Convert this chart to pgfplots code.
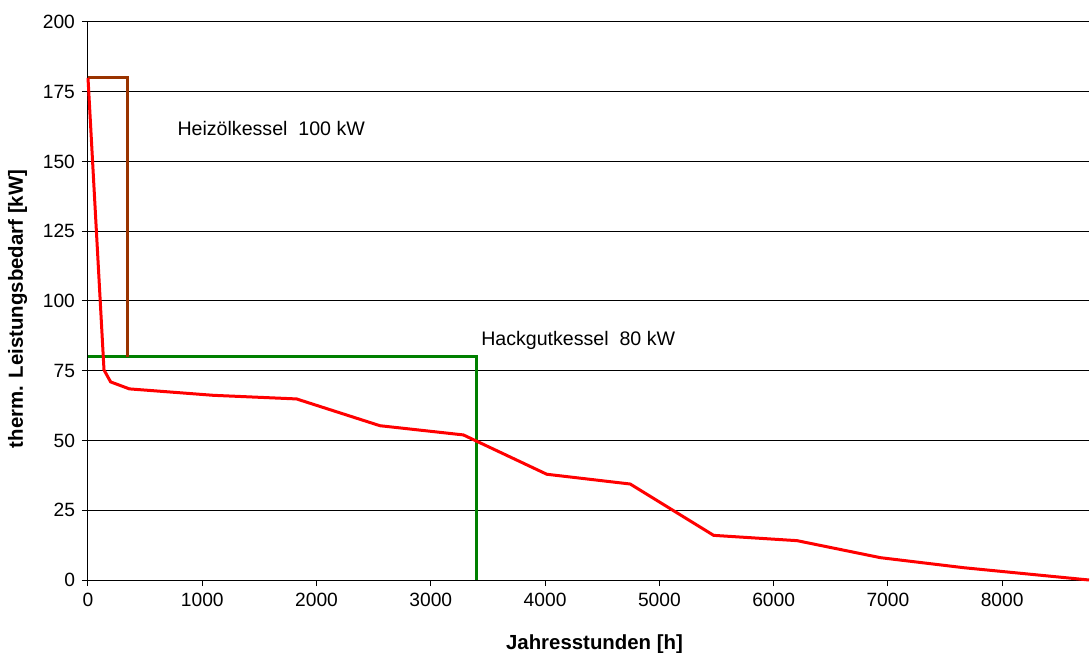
\documentclass[border=0pt]{standalone}
\usepackage{fontspec}
\setmainfont{Liberation Sans}
\usepackage{pgfplots}
\pgfplotsset{compat=1.18}
\definecolor{redline}{RGB}{255,0,0}
\definecolor{brownline}{RGB}{153,51,0}
\definecolor{greenline}{RGB}{0,128,0}
\begin{document}
\begin{tikzpicture}
\begin{axis}[
  at={(0pt,0pt)}, anchor=south west,
  scale only axis,
  width=500.5pt, height=279pt,
  xmin=0, xmax=8760, ymin=0, ymax=200,
  xtick={0,1000,2000,3000,4000,5000,6000,7000,8000},
  ytick={0,25,50,75,100,125,150,175,200},
  axis x line*=bottom, axis y line*=left,
  axis line style={-, line width=0.5pt, black},
  tick align=outside,
  major tick length=3pt,
  tick style={line width=0.5pt, black},
  ymajorgrids,
  major grid style={line width=0.5pt, black},
  /pgf/number format/assume math mode=true,
  /pgf/number format/.cd, 1000 sep={}, /pgfplots/.cd,
  ticklabel style={font=\fontsize{9.6}{11}\selectfont},
  xlabel={\textbf{Jahresstunden [h]}},
  ylabel={\textbf{therm. Leistungsbedarf [kW]}},
  label style={font=\fontsize{10.2}{12}\selectfont},
  xlabel style={yshift=-7pt, xshift=3pt},
  ylabel style={xshift=-4pt, yshift=1pt},
  clip=false,
]
\addplot[greenline, line width=1.5pt] coordinates {(0,80) (3400,80) (3400,0)};
\addplot[brownline, line width=1.5pt] coordinates {(0,180) (350,180) (350,80)};
\addplot[redline, line width=1.5pt] coordinates {
(0,180) (140,75.3) (198,71) (362,68.5) (1095,66.2) (1825,64.9) (2555,55.3) (3285,52.0) (4015,37.9) (4745,34.4) (5475,16.0) (6205,14.1) (6935,8.0) (7665,4.4) (8760,0)};
\node[anchor=west, inner sep=0pt, font=\fontsize{9.8}{11}\selectfont] at (axis cs:780,162) {Heizölkessel\ \ 100 kW};
\node[anchor=west, inner sep=0pt, font=\fontsize{9.8}{11}\selectfont] at (axis cs:3438,86) {Hackgutkessel\ \ 80 kW};
\end{axis}
\pgfresetboundingbox
\path[use as bounding box] (-44pt,-36pt) rectangle (501pt,290pt);
\end{tikzpicture}
\end{document}
